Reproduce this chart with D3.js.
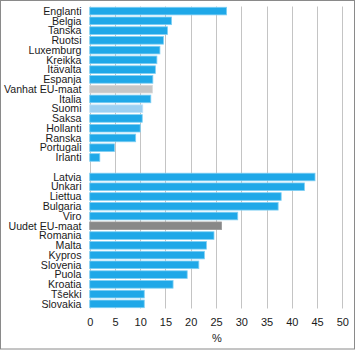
<!DOCTYPE html>
<html><head><meta charset="utf-8">
<script src="https://cdn.jsdelivr.net/npm/d3@7"></script>
<style>body{margin:0;background:#fff}svg{display:block}</style>
</head><body>
<script>
const countries = ["Englanti","Belgia","Tanska","Ruotsi","Luxemburg","Kreikka","Itävalta","Espanja","Vanhat EU-maat","Italia","Suomi","Saksa","Hollanti","Ranska","Portugali","Irlanti","",
"Latvia","Unkari","Liettua","Bulgaria","Viro","Uudet EU-maat","Romania","Malta","Kypros","Slovenia","Puola","Kroatia","Tšekki","Slovakia"];
const values = [27.1,16.2,15.4,14.6,13.9,13.3,13.0,12.5,12.4,12.1,10.5,10.4,10.0,9.1,4.9,2.0,null,
44.6,42.5,37.9,37.3,29.3,26.1,24.6,23.1,22.7,21.6,19.3,16.5,10.8,10.8];
const xTicks = [0,5,10,15,20,25,30,35,40,45,50];
const axisLabel = "%";
const highlight = {"Vanhat EU-maat":"old","Suomi":"fi","Uudet EU-maat":"new"};

const W=355,H=350;
const fill={def:"#1fa8e8",old:"#c6c6c6",fi:"#9dd0f2",new:"#888888"};
const stroke={def:"#7fcff3",old:"#d8d8d8",fi:"#c2e3f8",new:"#9a9a9a"};
const font="'Liberation Sans', Arial, sans-serif";

const svg=d3.select("body").append("svg").attr("width",W).attr("height",H);
svg.append("rect").attr("x",0.5).attr("y",0.5).attr("width",354).attr("height",348.5)
  .attr("fill","none").attr("stroke","#8a8a8a").attr("stroke-width",1);

const keys=countries.map((c,i)=>i);
const y=d3.scaleBand().domain(keys).range([6.2,6.2+31*9.76]).paddingInner(0.22).paddingOuter(0.11);
const x=d3.scaleLinear().domain([0,50]).range([89.7,342.3]);

// gridlines
svg.append("g").selectAll("line").data(xTicks).join("line")
  .attr("x1",d=>Math.round(x(d))+0.5).attr("x2",d=>Math.round(x(d))+0.5)
  .attr("y1",6.5).attr("y2",308.5).attr("stroke","#c4c4c4").attr("stroke-width",1);

// bars
svg.append("g").selectAll("rect").data(keys.filter(i=>values[i]!=null)).join("rect")
  .attr("x",x(0)).attr("y",i=>y(i)).attr("width",i=>x(values[i])-x(0)).attr("height",y.bandwidth())
  .attr("fill",i=>fill[highlight[countries[i]]||"def"])
  .attr("stroke",i=>stroke[highlight[countries[i]]||"def"]).attr("stroke-width",0.8);

// category labels
svg.append("g").selectAll("text").data(keys.filter(i=>countries[i]!=="")).join("text")
  .attr("x",81.5).attr("y",i=>y(i)+y.bandwidth()/2).attr("dy","0.35em")
  .attr("text-anchor","end").attr("font-family",font).attr("font-size",10.6).attr("fill","#1a1a1a")
  .text(i=>countries[i]);

// x axis tick labels
const ax=svg.append("g").attr("transform","translate(0,308)")
  .call(d3.axisBottom(x).tickValues(xTicks).tickSize(0).tickPadding(10));
ax.select(".domain").remove();
ax.selectAll("text").attr("font-family",font).attr("font-size",11).attr("fill","#1a1a1a");

svg.append("text").attr("x",x(25)+1).attr("y",338).attr("dy","0.35em").attr("text-anchor","middle")
  .attr("font-family",font).attr("font-size",11).attr("fill","#1a1a1a").text(axisLabel);
</script>
</body></html>
